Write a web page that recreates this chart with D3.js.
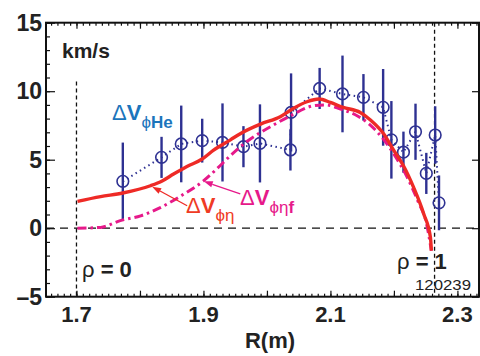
<!DOCTYPE html>
<html>
<head>
<meta charset="utf-8">
<script src="https://cdn.jsdelivr.net/npm/d3@7"></script>
<style>
  body { margin: 0; background: #fff; }
  svg { display: block; font-family: "Liberation Sans", Arial, sans-serif; }
</style>
</head>
<body>
<div id="chart"></div>
<script>
// He rotation difference, measured points with error bars
const heR = [1.773, 1.834, 1.865, 1.898, 1.930, 1.963, 1.989, 2.037, 2.038, 2.083, 2.119, 2.152, 2.183, 2.196, 2.215, 2.234, 2.251, 2.265, 2.271];
const heV = [3.42, 5.17, 6.15, 6.39, 6.26, 5.95, 6.19, 5.71, 8.45, 10.2, 9.8, 9.55, 8.82, 6.45, 5.55, 7.04, 4.0, 6.8, 1.85];
const heErr = [2.83, 1.5, 2.8, 1.6, 2.85, 1.5, 2.85, 1.5, 2.85, 1.5, 2.8, 1.7, 2.8, 2.83, 1.5, 2.05, 1.5, 2.1, 2.0];

// neoclassical prediction (solid red)
const etaR = [1.7016, 1.738, 1.773, 1.8165, 1.835, 1.853, 1.874, 1.898, 1.916, 1.9425, 1.958, 1.99, 2.021, 2.04, 2.063, 2.082, 2.1, 2.12, 2.147, 2.163, 2.184, 2.2, 2.215, 2.231, 2.247, 2.2575, 2.259];
const etaV = [1.96, 2.3, 2.57, 3.1, 3.45, 3.95, 4.5, 5.05, 5.7, 6.45, 6.9, 7.6, 8.14, 8.7, 9.23, 9.43, 9.18, 8.82, 8.45, 7.9, 6.88, 5.66, 4.56, 2.98, 1.04, -0.67, -1.64];

// with friction term (magenta dash-dot)
const etafR = [1.7016, 1.738, 1.769, 1.801, 1.832, 1.866, 1.9, 1.9215, 1.9425, 1.969, 2.0055, 2.037, 2.074, 2.092, 2.116, 2.142, 2.158, 2.179, 2.2, 2.221, 2.2385, 2.251, 2.259];
const etafV = [0, 0.06, 0.55, 0.9, 1.5, 2.4, 3.45, 4.35, 5.3, 6.35, 7.41, 8.2, 8.94, 9.0, 8.7, 8.21, 7.72, 6.75, 5.41, 3.71, 1.9, 0.4, -1.64];

const xTicks = [1.7, 1.9, 2.1, 2.3];
const yTicks = [-5, 0, 5, 10, 15];
const rho0 = 1.7, rho1 = 2.264;

const width = 480, height = 356;
const plot = { left: 46, right: 479, top: 22.7, bottom: 296.7 };

const svg = d3.select("#chart").append("svg")
  .attr("width", width).attr("height", height);

const x = d3.scaleLinear().domain([1.652, 2.334]).range([plot.left, plot.right]);
const y = d3.scaleLinear().domain([-5, 15]).range([plot.bottom, plot.top]);

const navy = "#2e3192", red = "#ee2a26", magenta = "#e6198a";

// reference lines
svg.append("line")
  .attr("x1", plot.left).attr("x2", plot.right)
  .attr("y1", y(0)).attr("y2", y(0))
  .attr("stroke", "#111").attr("stroke-width", 1.3).attr("stroke-dasharray", "8,6");
svg.append("line")
  .attr("x1", x(rho0)).attr("x2", x(rho0))
  .attr("y1", y(10.7)).attr("y2", plot.bottom)
  .attr("stroke", "#111").attr("stroke-width", 1.3).attr("stroke-dasharray", "4,3");
svg.append("line")
  .attr("x1", x(rho1)).attr("x2", x(rho1))
  .attr("y1", plot.top).attr("y2", plot.bottom)
  .attr("stroke", "#111").attr("stroke-width", 1.3).attr("stroke-dasharray", "4,3");

// measured He data
const he = heR.map((r, i) => ({ r, v: heV[i], e: heErr[i] }));

svg.append("path")
  .datum(he)
  .attr("fill", "none").attr("stroke", navy).attr("stroke-width", 2)
  .attr("stroke-dasharray", "1.5,3.5")
  .attr("d", d3.line().x(d => x(d.r)).y(d => y(d.v)));

svg.append("g").selectAll("line")
  .data(he).join("line")
  .attr("x1", d => x(d.r)).attr("x2", d => x(d.r))
  .attr("y1", d => y(d.v + d.e)).attr("y2", d => y(d.v - d.e))
  .attr("stroke", navy).attr("stroke-width", 2.4);

svg.append("g").selectAll("circle")
  .data(he).join("circle")
  .attr("cx", d => x(d.r)).attr("cy", d => y(d.v)).attr("r", 5.8)
  .attr("fill", "none").attr("stroke", navy).attr("stroke-width", 1.6);

// model curves
const line = d3.line().x(d => x(d[0])).y(d => y(d[1])).curve(d3.curveMonotoneX);

svg.append("path")
  .datum(etafR.map((r, i) => [r, etafV[i]]))
  .attr("fill", "none").attr("stroke", magenta).attr("stroke-width", 3)
  .attr("stroke-dasharray", "9,4,2.5,4")
  .attr("d", line);

svg.append("path")
  .datum(etaR.map((r, i) => [r, etaV[i]]))
  .attr("fill", "none").attr("stroke", red).attr("stroke-width", 3.4)
  .attr("d", line);

// arrows
function arrow(r0, v0, r1, v1, color) {
  const x0 = x(r0), y0 = y(v0), x1 = x(r1), y1 = y(v1);
  const a = Math.atan2(y1 - y0, x1 - x0);
  const L = 9, W = 3.2;
  const bx = x1 - L * Math.cos(a), by = y1 - L * Math.sin(a);
  svg.append("line")
    .attr("x1", x0).attr("y1", y0).attr("x2", bx).attr("y2", by)
    .attr("stroke", color).attr("stroke-width", 1.3);
  svg.append("path")
    .attr("d", `M${x1},${y1}L${bx - W * Math.sin(a)},${by + W * Math.cos(a)}L${bx + W * Math.sin(a)},${by - W * Math.cos(a)}Z`)
    .attr("fill", color);
}
arrow(1.8743, 1.64, 1.8192, 3.03, red);
arrow(1.958, 2.5, 1.9005, 3.42, magenta);

// frame
svg.append("rect")
  .attr("x", plot.left).attr("y", plot.top)
  .attr("width", plot.right - plot.left).attr("height", plot.bottom - plot.top)
  .attr("fill", "none").attr("stroke", "#111").attr("stroke-width", 2);

// axes ticks
const minorX = d3.range(166, 234).map(d => d / 100);
const majorX = d3.range(17, 24).map(d => d / 10);
const minorY = d3.range(-5, 16);

function ticks(axis, values, size) {
  const g = svg.append("g").call(axis.tickValues(values).tickSize(size).tickFormat(""));
  g.select(".domain").remove();
  g.selectAll(".tick line").attr("stroke", "#111").attr("stroke-width", 1.2);
  return g;
}
ticks(d3.axisBottom(x), minorX, -3).attr("transform", `translate(0,${plot.bottom})`);
ticks(d3.axisBottom(x), majorX, -6).attr("transform", `translate(0,${plot.bottom})`);
ticks(d3.axisTop(x), minorX, -3).attr("transform", `translate(0,${plot.top})`);
ticks(d3.axisTop(x), majorX, -6).attr("transform", `translate(0,${plot.top})`);
ticks(d3.axisLeft(y), minorY, -4).attr("transform", `translate(${plot.left},0)`);
ticks(d3.axisLeft(y), yTicks, -9).attr("transform", `translate(${plot.left},0)`);
ticks(d3.axisRight(y), yTicks, -7).attr("transform", `translate(${plot.right},0)`);

// tick labels
svg.append("g").selectAll("text")
  .data(xTicks).join("text")
  .attr("x", d => x(d)).attr("y", plot.bottom + 25)
  .attr("text-anchor", "middle")
  .attr("font-size", 22).attr("font-weight", "bold").attr("fill", "#222")
  .text(d => d.toFixed(1));

svg.append("g").selectAll("text")
  .data(yTicks).join("text")
  .attr("x", 42).attr("y", d => y(d)).attr("dy", "0.36em")
  .attr("text-anchor", "end")
  .attr("font-size", 23).attr("font-weight", "bold").attr("fill", "#222")
  .text(d => d < 0 ? "\u2013" + Math.abs(d) : d);

svg.append("text")
  .attr("x", 270).attr("y", 348).attr("text-anchor", "middle")
  .attr("font-size", 22).attr("font-weight", "bold").attr("fill", "#222")
  .text("R(m)");

svg.append("text")
  .attr("x", 62).attr("y", 58)
  .attr("font-size", 21).attr("font-weight", "bold").attr("fill", "#222")
  .text("km/s");

// curve labels
function label(xp, yp, color, sub, subBold) {
  const t = svg.append("text").attr("x", xp).attr("y", yp).attr("fill", color).attr("font-size", 22);
  t.append("tspan").text("\u0394");
  t.append("tspan").attr("font-weight", "bold").text("V");
  t.append("tspan").attr("font-size", 17).attr("dy", 8).text(sub);
  if (subBold) t.append("tspan").attr("font-size", 17).attr("font-weight", "bold").text(subBold);
}
label(112, 120, "#1b75bc", "\u03D5", "He");
label(186, 213, "#ef3b24", "\u03D5\u03B7");
label(240, 205, magenta, "\u03D5\u03B7", "f");

// rho labels
const r0 = svg.append("text").attr("x", 82).attr("y", 277).attr("font-size", 22).attr("fill", "#222");
r0.append("tspan").text("\u03C1");
r0.append("tspan").attr("font-weight", "bold").text(" = 0");
const r1 = svg.append("text").attr("x", 397).attr("y", 269).attr("font-size", 22).attr("fill", "#222");
r1.append("tspan").text("\u03C1");
r1.append("tspan").attr("font-weight", "bold").text(" = 1");

svg.append("text")
  .attr("x", 415).attr("y", 290)
  .attr("font-size", 15).attr("fill", "#222")
  .attr("textLength", 56).attr("lengthAdjust", "spacingAndGlyphs")
  .text("120239");
</script>
</body>
</html>
